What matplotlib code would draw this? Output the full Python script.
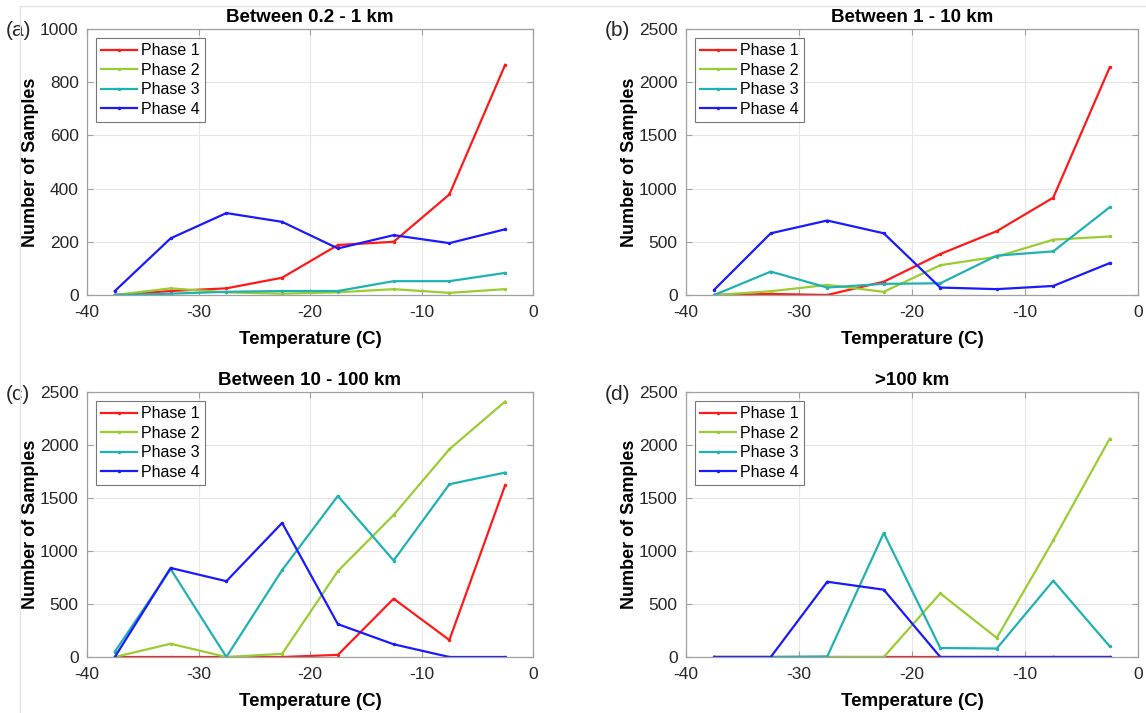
import matplotlib
matplotlib.use('Agg')
import matplotlib.pyplot as plt
from matplotlib.lines import Line2D

plt.rcParams['font.family'] = ['Liberation Sans', 'DejaVu Sans']
plt.rcParams['axes.unicode_minus'] = False

# bin centres of temperature (C)
temps = [-37.5, -32.5, -27.5, -22.5, -17.5, -12.5, -7.5, -2.5]
phases = ['Phase 1', 'Phase 2', 'Phase 3', 'Phase 4']
colors = ['#ff1a1a', '#9acd32', '#20b2b2', '#1a1aff']

titles = ['Between 0.2 - 1 km', 'Between 1 - 10 km', 'Between 10 - 100 km', '>100 km']
tags = ['(a)', '(b)', '(c)', '(d)']
ymax = [1000, 2500, 2500, 2500]
ystep = [200, 500, 500, 500]

# (a) 0.2 - 1 km
a_p1 = [0, 15, 25, 65, 188, 200, 378, 865]
a_p2 = [0, 25, 10, 5, 10, 22, 8, 22]
a_p3 = [0, 5, 12, 15, 15, 52, 52, 83]
a_p4 = [15, 213, 308, 275, 175, 225, 195, 247]

# (b) 1 - 10 km
b_p1 = [0, 10, 0, 125, 385, 600, 915, 2140]
b_p2 = [0, 35, 95, 30, 280, 360, 520, 550]
b_p3 = [0, 220, 70, 105, 110, 370, 410, 825]
b_p4 = [50, 580, 700, 580, 70, 55, 85, 300]

# (c) 10 - 100 km
c_p1 = [0, 0, 0, 0, 20, 550, 160, 1620]
c_p2 = [0, 125, 0, 30, 810, 1340, 1960, 2410]
c_p3 = [50, 830, 0, 820, 1520, 910, 1630, 1740]
c_p4 = [0, 840, 715, 1265, 310, 120, 0, 0]

# (d) > 100 km
d_p1 = [0, 0, 0, 0, 0, 0, 0, 0]
d_p2 = [0, 0, 0, 0, 600, 180, 1100, 2060]
d_p3 = [0, 0, 5, 1170, 85, 80, 720, 100]
d_p4 = [0, 0, 710, 635, 0, 0, 0, 0]

panels = [[a_p1, a_p2, a_p3, a_p4],
          [b_p1, b_p2, b_p3, b_p4],
          [c_p1, c_p2, c_p3, c_p4],
          [d_p1, d_p2, d_p3, d_p4]]

W, H = 1146, 713
fig = plt.figure(figsize=(W / 100, H / 100), dpi=100)

# axes boxes in pixels: left, top, right, bottom
boxes = [(87, 29, 533, 295), (686, 29, 1138, 295),
         (87, 392, 533, 657), (686, 392, 1138, 657)]

# faint screenshot frame lines
fig.add_artist(Line2D([20 / W, 1.0], [1 - 6 / H, 1 - 6 / H], color='#e4e4e4', lw=1))
fig.add_artist(Line2D([20 / W, 20 / W], [0, 1 - 6 / H], color='#e4e4e4', lw=1))

tick_col = '#262626'
for i in range(4):
    l, t, r, b = boxes[i]
    ax = fig.add_axes([l / W, 1 - b / H, (r - l) / W, (b - t) / H])
    for series, name, c in zip(panels[i], phases, colors):
        ax.plot(temps, series, color=c, lw=1.6, marker='.', ms=3, label=name)
    ax.set_xlim(-40, 0)
    ax.set_ylim(0, ymax[i])
    ax.set_xticks(range(-40, 1, 10))
    ax.set_yticks(range(0, ymax[i] + 1, ystep[i]))
    ax.grid(True, color='#e6e6e6', lw=0.8)
    ax.set_axisbelow(True)
    for s in ax.spines.values():
        s.set_color('#a0a0a0')
        s.set_linewidth(0.9)
    ax.tick_params(direction='in', length=4, colors='#a0a0a0', labelcolor=tick_col,
                   labelsize=12.5, top=True, right=True)
    ax.tick_params(axis='x', pad=7)
    ax.tick_params(axis='y', pad=6)
    ax.set_title(titles[i], fontsize=13.5, fontweight='bold', pad=5)
    ax.set_xlabel('Temperature (C)', fontsize=13.5, fontweight='bold', labelpad=8)
    ax.set_ylabel('Number of Samples', fontsize=13, fontweight='bold')
    ax.yaxis.set_label_coords((l - 48) / W, 1 - (t + b) / 2 / H, transform=fig.transFigure)
    leg = ax.legend(loc='upper left', fontsize=11.5, frameon=True, fancybox=False,
                    handlelength=2.2, handletextpad=0.25, labelspacing=0.28,
                    borderpad=0.35, borderaxespad=0.55)
    leg.get_frame().set_edgecolor('#555555')
    leg.get_frame().set_linewidth(0.8)
    ax.text((l - 81) / W, 1 - (t + 2) / H, tags[i], transform=fig.transFigure,
            fontsize=15, ha='left', va='center', color=tick_col)

fig.savefig('out.png', dpi=100)
